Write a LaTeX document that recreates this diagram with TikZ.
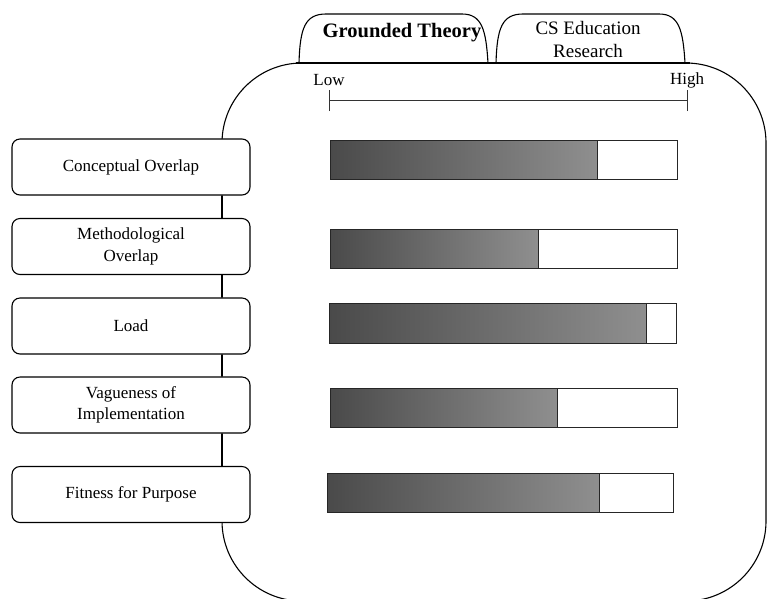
\documentclass[tikz,border=0pt]{standalone}
\usepackage{fontspec}
\setmainfont{Liberation Serif}
\begin{document}
\begin{tikzpicture}[x=1pt,y=-1pt,
  lbl/.style={draw=black,line width=1.1pt,rounded corners=8pt,fill=white,
    minimum width=238pt,minimum height=56pt,inner sep=0pt,align=center,
    font=\fontsize{17}{21.5}\selectfont},
  shellline/.style={draw=black,line width=1.1pt},
  fillbar/.style={left color=black!71,right color=black!44,draw=black!85,line width=1pt},
  emptybar/.style={draw=black!85,line width=1pt,fill=white},
  scaletxt/.style={font=\fontsize{17}{20}\selectfont,inner sep=0pt}]
\useasboundingbox (0,0) rectangle (767,598);
\clip (0,0) rectangle (767,598);
% big rounded container
\draw[shellline,rounded corners=80pt] (222,63) rectangle (766,601);
% tabs
\draw[shellline,fill=white] (299,63) .. controls (300,28) and (305,14) .. (326,14) -- (462,14)
  .. controls (482,14) and (486,30) .. (488,63);
\draw[shellline,fill=white] (496,63) .. controls (497,28) and (502,14) .. (523,14) -- (659,14)
  .. controls (679,14) and (683,30) .. (685,63);
\draw[shellline] (296,63) -- (690,63);
\node[inner sep=0pt,font=\fontsize{20.5}{24}\selectfont\bfseries] (gt) at (402,33) {Grounded Theory};
\node[inner sep=0pt,align=center,font=\fontsize{19}{23}\selectfont] (cs) at (588,39) {CS Education\\Research};
% scale
\node[scaletxt] (low) at (329,80) {Low};
\node[scaletxt] (high) at (687,80) {High};
\coordinate (l0) at (329,100);
\coordinate (h0) at (687,100);
\draw[line width=1pt,black!80] (l0) -- (h0);
\draw[line width=1pt,black!80] ([yshift=-11pt]l0) -- ([yshift=10pt]l0);
\draw[line width=1pt,black!80] ([yshift=-11pt]h0) -- ([yshift=10pt]h0);
% labels
\node[lbl] (co) at (131,167) {Conceptual Overlap};
\node[lbl] (mo) at (131,246.5) {Methodological\\Overlap};
\node[lbl] (lo) at (131,326) {Load};
\node[lbl] (va) at (131,405) {Vagueness of\\Implementation};
\node[lbl] (fi) at (131,494.5) {Fitness for Purpose};
\draw[shellline] ([xshift=91pt]co.south) -- ([xshift=91pt]mo.north);
\draw[shellline] ([xshift=91pt]mo.south) -- ([xshift=91pt]lo.north);
\draw[shellline] ([xshift=91pt]lo.south) -- ([xshift=91pt]va.north);
\draw[shellline] ([xshift=91pt]va.south) -- ([xshift=91pt]fi.north);
% bars
\draw[emptybar] (597,140) rectangle (677,179);
\draw[fillbar] (330,140) rectangle (597,179);
\draw[emptybar] (538,229) rectangle (677,268);
\draw[fillbar] (330,229) rectangle (538,268);
\draw[emptybar] (646,303) rectangle (676,343);
\draw[fillbar] (329,303) rectangle (646,343);
\draw[emptybar] (557,388) rectangle (677,427);
\draw[fillbar] (330,388) rectangle (557,427);
\draw[emptybar] (599,473) rectangle (673,512);
\draw[fillbar] (327,473) rectangle (599,512);
\end{tikzpicture}
\end{document}
